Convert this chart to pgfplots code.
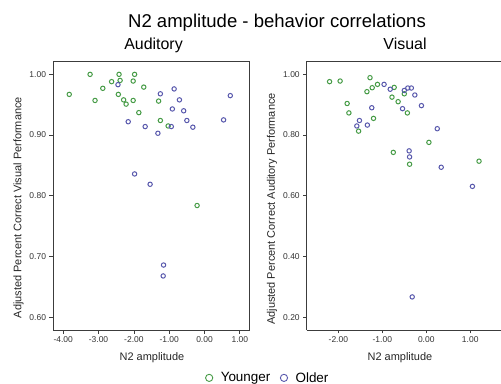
\documentclass[border=0pt]{standalone}
\usepackage{pgfplots}
\pgfplotsset{compat=1.18}
\usepackage{fontspec}
\setmainfont{Liberation Sans}
\definecolor{ygreen}{RGB}{70,155,70}
\definecolor{oblue}{RGB}{88,88,172}
\definecolor{spine}{RGB}{60,60,60}
\begin{document}
\begin{tikzpicture}
\path[use as bounding box] (0bp,0bp) rectangle (501bp,384bp);
\pgfplotsset{
  every axis/.append style={
    scale only axis,
    anchor=south west,
    axis line style={spine, line width=0.8bp},
    tick align=outside, xtick pos=left, ytick pos=left,
    major tick length=3.5bp,
    tick style={spine, line width=0.7bp},
    /pgf/number format/assume math mode=true,
    /pgf/number format/fixed,
    /pgf/number format/fixed zerofill,
    /pgf/number format/precision=2,
    ticklabel style={font=\fontsize{8.5}{10}\selectfont, text=black!80},
    label style={font=\fontsize{11}{13}\selectfont, text=black!85},
    only marks,
    clip=false,
  },
  yg/.style={mark=o, mark size=2.2bp, color=ygreen, mark options={line width=1bp}},
  ob/.style={mark=o, mark size=2.2bp, color=oblue, mark options={line width=1bp}},
}
% Left: Auditory
\begin{axis}[
  at={(53bp,54bp)}, width=196bp, height=269bp,
  xmin=-4.29, xmax=1.26, ymin=0.579, ymax=1.022,
  xtick={-4,-3,-2,-1,0,1}, ytick={0.6,0.7,0.8,0.9,1.0},
  xlabel={N2 amplitude},
  ylabel={Adjusted Percent Correct Visual Performance},
  xlabel style={at={(axis description cs:0.505,-0.104)}, anchor=center},
  ylabel style={at={(axis description cs:-0.176,0.455)}, anchor=center},
  legend columns=2,
  legend style={at={(axis description cs:1.097,-0.178)}, anchor=center, draw=none, fill=none,
    font=\fontsize{13.5}{15}\selectfont, column sep=6bp,
    /tikz/every even column/.append style={column sep=8bp}},
  legend image post style={mark size=3.6bp, mark options={line width=0.9bp}},
]
\addplot+[yg] coordinates {
(-3.83,0.967) (-3.24,1.000) (-3.10,0.957) (-2.88,0.977) (-2.63,0.988)
(-2.42,1.000) (-2.39,0.990) (-2.44,0.967) (-2.29,0.958) (-2.22,0.951)
(-1.98,1.000) (-2.02,0.989) (-2.02,0.957) (-1.72,0.979) (-1.86,0.937)
(-1.30,0.956) (-1.25,0.924) (-1.03,0.915) (-0.21,0.784)
};
\addlegendentry{Younger}
\addplot+[ob] coordinates {
(-2.45,0.983) (-2.16,0.922) (-1.68,0.914) (-1.32,0.903) (-1.25,0.968)
(-0.86,0.976) (-0.91,0.943) (-0.71,0.958) (-0.59,0.940) (-0.50,0.924)
(-0.94,0.914) (-0.33,0.913) (0.54,0.925) (0.73,0.965) (-1.98,0.836)
(-1.54,0.819) (-1.16,0.686) (-1.17,0.668)
};
\addlegendentry{Older}
\end{axis}
% Right: Visual
\begin{axis}[
  at={(306.7bp,54bp)}, width=194.3bp, height=269bp,
  axis lines*=left,
  xmin=-2.72, xmax=1.70, ymin=0.158, ymax=1.044,
  xtick={-2,-1,0,1}, ytick={0.2,0.4,0.6,0.8,1.0},
  xlabel={N2 amplitude},
  ylabel={Adjusted Percent Correct Auditory Performance},
  xlabel style={at={(axis description cs:0.48,-0.104)}, anchor=center},
  ylabel style={at={(axis description cs:-0.179,0.45)}, anchor=center},
]
\draw[spine, line width=0.8bp] (rel axis cs:0,1) -- (rel axis cs:1,1);
\addplot+[yg] coordinates {
(-2.20,0.976) (-1.96,0.978) (-1.80,0.904) (-1.76,0.873) (-1.54,0.813)
(-1.35,0.943) (-1.28,0.989) (-1.23,0.956) (-1.11,0.967) (-1.20,0.855)
(-0.73,0.957) (-0.78,0.925) (-0.64,0.910) (-0.50,0.936) (-0.43,0.873)
(-0.75,0.743) (-0.38,0.704) (0.06,0.776) (1.20,0.714)
};
\addplot+[ob] coordinates {
(-0.96,0.967) (-0.82,0.951) (-0.50,0.947) (-0.42,0.955) (-0.34,0.955)
(-0.26,0.932) (-0.54,0.887) (-0.11,0.897) (-1.24,0.890) (-1.52,0.848)
(-1.58,0.830) (-1.34,0.833) (0.25,0.821) (-0.39,0.748) (-0.38,0.728)
(0.34,0.694) (1.05,0.631) (-0.32,0.267)
};
\end{axis}
\node[anchor=base, font=\fontsize{18.6}{20}\selectfont] at (277bp,356bp) {N2 amplitude - behavior correlations};
\node[anchor=base, font=\fontsize{16}{18}\selectfont] at (153.5bp,334bp) {Auditory};
\node[anchor=base, font=\fontsize{16}{18}\selectfont] at (405bp,334bp) {Visual};
\end{tikzpicture}
\end{document}
